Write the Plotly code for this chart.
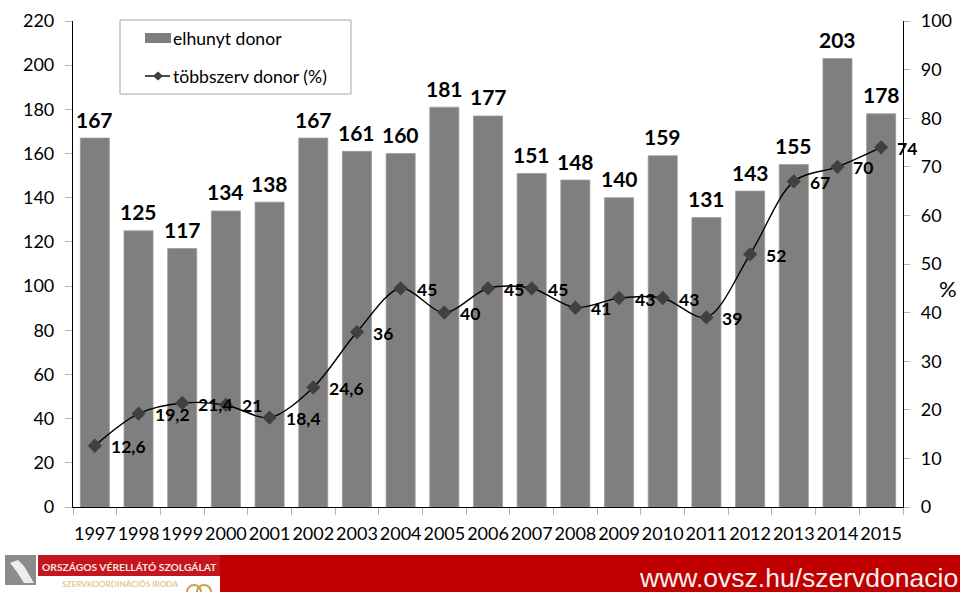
import plotly.graph_objects as go

years = [str(y) for y in range(1997, 2016)]
deceased_donors = [167, 125, 117, 134, 138, 167, 161, 160, 181, 177, 151, 148, 140, 159, 131, 143, 155, 203, 178]
multiorgan_pct = [12.6, 19.2, 21.4, 21, 18.4, 24.6, 36, 45, 40, 45, 45, 41, 43, 43, 39, 52, 67, 70, 74]
left_ticks = list(range(0, 221, 20))
right_ticks = list(range(0, 101, 10))

W, H = 960, 592
L, R, T, B = 73, 57, 21, 85
FONT = "Lato, Carlito, Calibri, sans-serif"
GREY = "#7F7F7F"
TICK = "#B5B5B5"


def px(x):
    return (x - L) / (W - L - R)


def py(y):
    return 1 - (y - T) / (H - T - B)


def rect(x0, y0, x1, y1, fill, line=None, layer="above"):
    return dict(type="rect", xref="paper", yref="paper",
                x0=px(x0), y0=py(y0), x1=px(x1), y1=py(y1),
                fillcolor=fill, layer=layer,
                line=dict(color=line or fill, width=1 if line else 0))


def polygon(points, fill):
    path = "M" + "L".join(f"{px(a):.5f},{py(b):.5f}" for a, b in points) + "Z"
    return dict(type="path", xref="paper", yref="paper", path=path,
                fillcolor=fill, line=dict(width=0), layer="above")


def ring(cx, cy, r, colour):
    return dict(type="circle", xref="paper", yref="paper",
                x0=px(cx - r), x1=px(cx + r), y0=py(cy + r), y1=py(cy - r),
                line=dict(color=colour, width=2), layer="above")


def label(x, y, text, size, colour="#000000", anchor="left", bold=False, family=FONT):
    return dict(xref="paper", yref="paper", x=px(x), y=py(y), text=f"<b>{text}</b>" if bold else text,
                showarrow=False, xanchor=anchor, yanchor="middle",
                font=dict(size=size, color=colour, family=family))


fig = go.Figure()

fig.add_trace(go.Bar(
    x=years, y=deceased_donors, name="elhunyt donor", width=0.665,
    marker=dict(color=GREY, line=dict(color="#9A9A9A", width=0.8)),
))

fig.add_trace(go.Scatter(
    x=years, y=multiorgan_pct, yaxis="y2", name="többszerv donor (%)",
    mode="lines+markers",
    line=dict(color="#000000", width=1.4, shape="spline", smoothing=0.9),
    marker=dict(symbol="diamond", size=11, color="#404040"),
    cliponaxis=False,
))

# Donor counts float above each bar
annotations = [
    dict(x=i, y=count, xref="x", yref="y", xanchor="center", yanchor="middle",
         yshift=19, showarrow=False, text=f"<b>{count}</b>",
         font=dict(size=21, color="#000000", family=FONT))
    for i, count in enumerate(deceased_donors)
]

# Percentage labels sit just to the right of each marker
annotations += [
    dict(x=i, y=pct, xref="x", yref="y2", xanchor="left", yanchor="middle",
         xshift=14, yshift=-1, showarrow=False,
         text="<b>" + f"{pct:g}".replace(".", ",") + "</b>",
         font=dict(size=17.5, color="#000000", family=FONT))
    for i, pct in enumerate(multiorgan_pct)
]

annotations += [
    label(948, 288, "%", 22, anchor="center"),
    label(171, 38, "elhunyt donor", 17.6),
    label(171, 76, "többszerv donor (%)", 17.6),
    label(960, 578, "www.ovsz.hu/szervdonacio", 26.5, colour="#F4F0F0", anchor="right",
          family="'Liberation Sans', Arial, sans-serif"),
    label(40, 567, "ORSZÁGOS VÉRELLÁTÓ SZOLGÁLAT", 10.3, colour="#F6E6E6", bold=True),
    label(60, 583.5, "SZERVKOORDINÁCIÓS IRODA", 8.2, colour="#E6C88E", bold=True),
]

shapes = [
    # legend frame and keys
    rect(120, 20, 351, 94, "#FFFFFF", line="#A6A6A6"),
    rect(145, 33, 171, 43, GREY),
    dict(type="line", xref="paper", yref="paper", x0=px(145), x1=px(170), y0=py(76), y1=py(76),
         line=dict(color="#000000", width=1.4), layer="above"),
    polygon([(158, 71.5), (163, 76), (158, 80.5), (153, 76)], "#404040"),
    # footer band and logo
    rect(38, 555, 960, 592, "#C00000"),
    rect(38, 576, 220, 592, "#FFFFFF"),
    rect(38, 555, 220, 576, "#C4161C"),
    rect(5, 555, 36, 585, "#8C8C8C"),
    polygon([(10, 563), (18, 560), (24, 566), (34, 583), (24, 583), (17, 572)], "#EDEDED"),
    ring(194, 592, 7, "#C9A24E"),
    ring(204, 592, 7, "#C9A24E"),
]

fig.update_layout(
    width=W, height=H,
    margin=dict(l=L, r=R, t=T, b=B, autoexpand=False),
    paper_bgcolor="#FFFFFF", plot_bgcolor="#FFFFFF",
    showlegend=False,
    font=dict(family=FONT, size=18, color="#000000"),
    annotations=annotations,
    shapes=shapes,
    xaxis=dict(
        type="category", range=[-0.5, 18.5], tickson="boundaries", ticks="outside", ticklen=7,
        tickcolor=TICK, tickwidth=1, showline=True, linecolor="#000000", linewidth=1.2,
        showgrid=False, tickfont=dict(size=18), tickangle=0, fixedrange=True,
        ticklabelstandoff=10,
    ),
    yaxis=dict(
        range=[0, 220], tickvals=left_ticks, ticks="outside", ticklen=7,
        tickcolor=TICK, tickwidth=1, showline=True, linecolor="#000000", linewidth=1.2,
        showgrid=False, zeroline=False, tickfont=dict(size=18), ticklabelstandoff=7,
    ),
    yaxis2=dict(
        range=[0, 100], tickvals=right_ticks, overlaying="y", side="right",
        ticks="outside", ticklen=6, tickcolor=TICK, tickwidth=1,
        showline=True, linecolor="#000000", linewidth=1.2,
        showgrid=False, zeroline=False, tickfont=dict(size=18), ticklabelstandoff=7,
    ),
    yaxis3=dict(
        range=[0, 100], tickvals=right_ticks, overlaying="y", side="right",
        ticks="inside", ticklen=6, tickcolor=TICK, tickwidth=1,
        showticklabels=False, showgrid=False, zeroline=False,
    ),
    bargap=0.335,
)

fig.write_html("out.html", config=dict(displayModeBar=False))
